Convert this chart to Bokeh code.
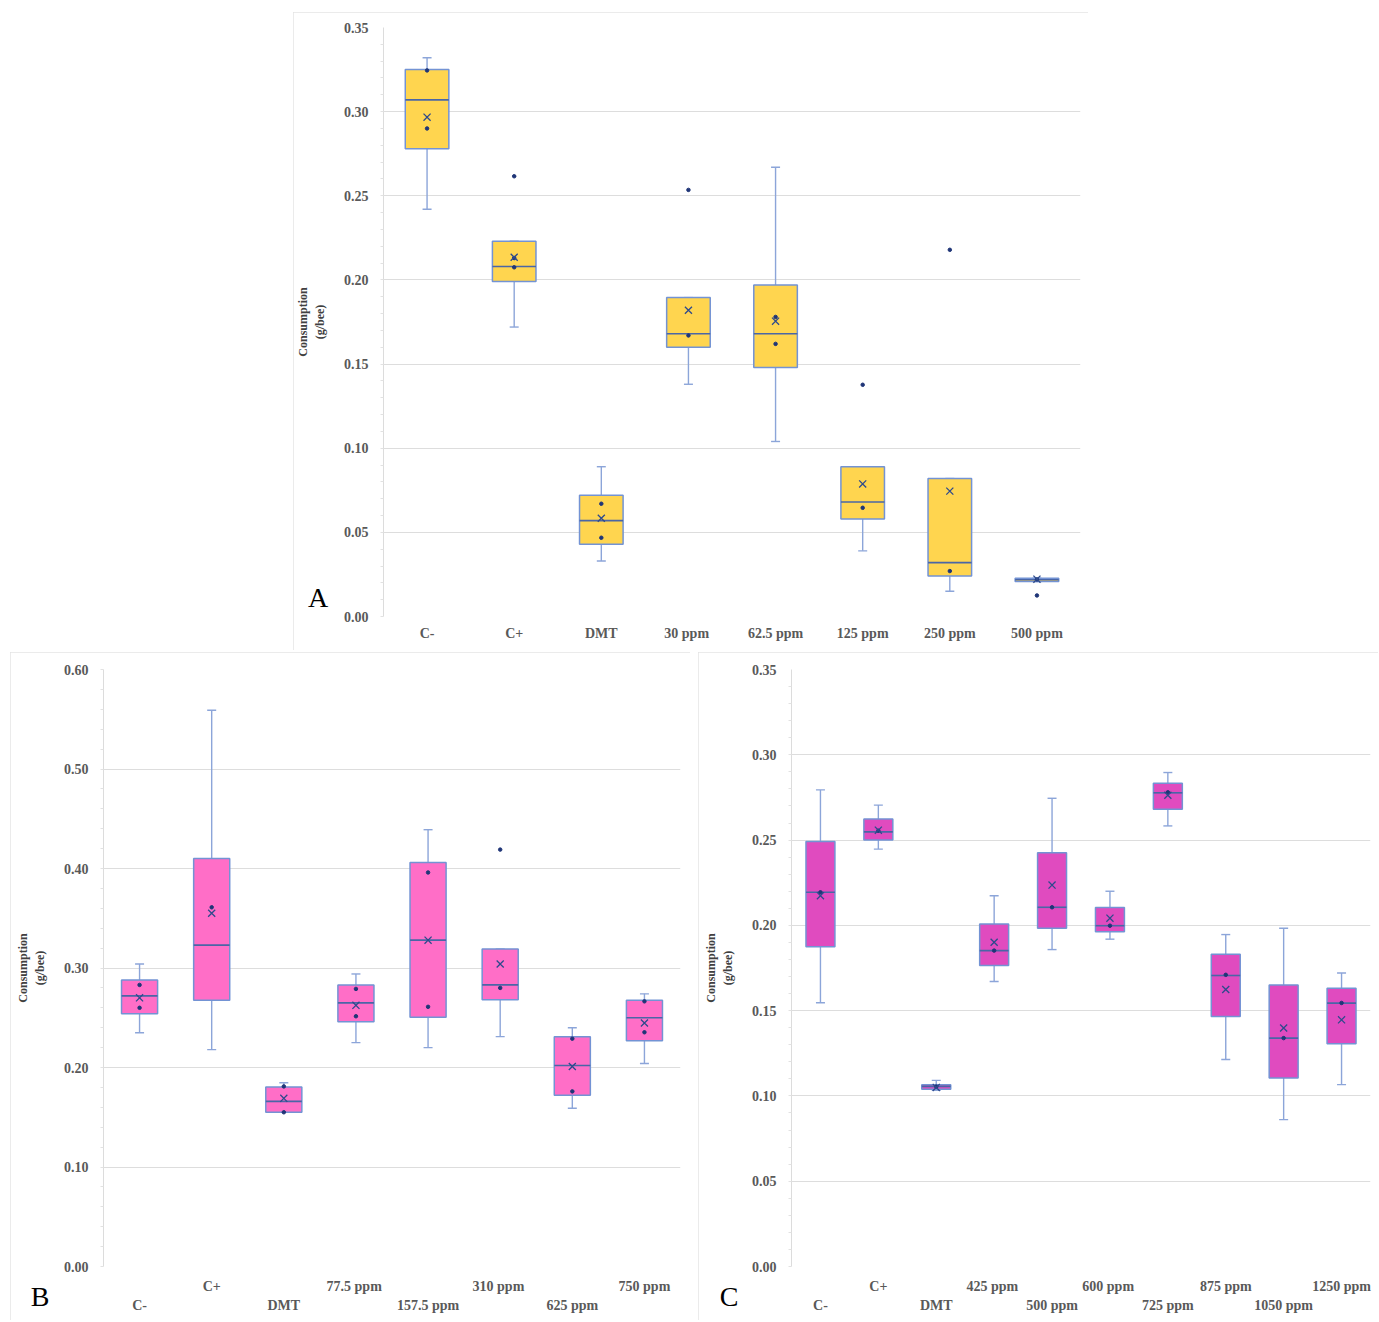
from bokeh.plotting import figure
from bokeh.models import (Range1d, CategoricalAxis, ColumnDataSource, Spacer, Div,
                          FixedTicker, NumeralTickFormatter, CustomJSTickFormatter)
from bokeh.transform import dodge
from bokeh.layouts import column, row
from bokeh.embed import file_html
from bokeh.resources import INLINE

# ---------------- Panel A ----------------
cats_a = ["C-", "C+", "DMT", "30  ppm", "62.5 ppm", "125 ppm", "250 ppm", "500 ppm"]
low_a = [0.242, 0.172, 0.033, 0.138, 0.104, 0.039, 0.015, 0.0208]
q1_a = [0.278, 0.199, 0.043, 0.160, 0.148, 0.058, 0.024, 0.0208]
med_a = [0.307, 0.208, 0.057, 0.168, 0.168, 0.068, 0.032, 0.0218]
q3_a = [0.325, 0.223, 0.072, 0.1895, 0.197, 0.089, 0.082, 0.0228]
high_a = [0.332, 0.223, 0.089, 0.1895, 0.267, 0.089, 0.082, 0.0228]
mean_a = [0.2967, 0.2135, 0.0584, 0.182, 0.1755, 0.0788, 0.0745, 0.0222]
points_a = [[0.3245, 0.290], [0.2616, 0.2075, 0.213], [0.067, 0.0468], [0.2535, 0.167],
            [0.162, 0.178], [0.1377, 0.0646], [0.2179, 0.027], [0.0125, 0.022]]
ticks_a = [0.00, 0.05, 0.10, 0.15, 0.20, 0.25, 0.30, 0.35]

# ---------------- Panel B ----------------
cats_b = ["C-", "C+", "DMT", "77.5  ppm", "157.5 ppm", "310  ppm", "625 ppm", "750 ppm"]
low_b = [0.235, 0.218, 0.155, 0.225, 0.220, 0.231, 0.159, 0.204]
q1_b = [0.254, 0.2675, 0.155, 0.246, 0.2505, 0.268, 0.172, 0.227]
med_b = [0.272, 0.323, 0.166, 0.265, 0.328, 0.283, 0.202, 0.250]
q3_b = [0.288, 0.410, 0.1805, 0.283, 0.406, 0.319, 0.231, 0.2675]
high_b = [0.304, 0.559, 0.1846, 0.294, 0.439, 0.319, 0.240, 0.274]
mean_b = [0.270, 0.355, 0.169, 0.2625, 0.328, 0.304, 0.201, 0.2447]
points_b = [[0.283, 0.260], [0.361], [0.181, 0.155], [0.279, 0.2515], [0.396, 0.261],
            [0.419, 0.280], [0.229, 0.176], [0.2665, 0.2354]]
ticks_b = [0.00, 0.10, 0.20, 0.30, 0.40, 0.50, 0.60]
upper_row_b = ["C+", "77.5  ppm", "310  ppm", "750 ppm"]

# ---------------- Panel C ----------------
cats_c = ["C-", "C+", "DMT", "425  ppm", "500 ppm", "600  ppm", "725 ppm", "875 ppm",
          "1050 ppm", "1250 ppm"]
low_c = [0.1546, 0.2447, 0.1033, 0.1671, 0.1858, 0.1919, 0.2583, 0.1214, 0.0861, 0.1066]
q1_c = [0.1875, 0.250, 0.1039, 0.1764, 0.1983, 0.1963, 0.2681, 0.1466, 0.1105, 0.1306]
med_c = [0.2194, 0.2548, 0.1056, 0.1852, 0.2106, 0.1998, 0.2777, 0.1706, 0.1339, 0.1544]
q3_c = [0.2492, 0.2623, 0.1066, 0.2008, 0.2425, 0.2104, 0.2833, 0.1831, 0.1651, 0.1632]
high_c = [0.2794, 0.2705, 0.1091, 0.2174, 0.2745, 0.220, 0.2896, 0.1946, 0.1983, 0.1721]
mean_c = [0.2174, 0.2558, 0.105, 0.1901, 0.2236, 0.2042, 0.2763, 0.1624, 0.1398, 0.1446]
points_c = [[0.2194], [0.2555], [0.1055], [0.1852], [0.2106], [0.1998], [0.278], [0.171],
            [0.1339], [0.1545]]
ticks_c = [0.00, 0.05, 0.10, 0.15, 0.20, 0.25, 0.30, 0.35]
upper_row_c = ["C+", "425  ppm", "600  ppm", "875 ppm", "1250 ppm"]

FONT = "Liberation Serif"
BOX_LINE = "#7393D4"
MEDIAN_LINE = "#4A66A6"
WHISKER = "#8CA5D9"
DOT = "#1F3577"
TICK_TEXT = "#595959"


def row_formatter(hidden):
    # shows only the factors that belong to this label row
    return CustomJSTickFormatter(args=dict(hidden=hidden),
                                 code="return hidden.includes(tick) ? '' : tick;")


def box_panel(cats, low, q1, med, q3, high, mean, points, ticks, minor_step, fill,
              width, height, borders, box_w, upper_row=None):
    left, right, top, bottom = borders
    p = figure(x_range=cats, y_range=Range1d(ticks[0], ticks[-1]),
               width=width, height=height, output_backend="svg", toolbar_location=None,
               min_border_left=left, min_border_right=right,
               min_border_top=top, min_border_bottom=bottom,
               background_fill_color="white", border_fill_color="white",
               styles={"outline": "1px solid #e4e4e4", "outline-offset": "-1px"})
    p.outline_line_color = None

    src = ColumnDataSource(dict(cat=cats, low=low, q1=q1, med=med, q3=q3, high=high, mean=mean))
    frame_w = width - left - right
    cap = 4.5 / (frame_w / len(cats))

    # whisker stems and caps
    p.segment(x0="cat", x1="cat", y0="low", y1="q1", source=src, line_color=WHISKER, line_width=1.4)
    p.segment(x0="cat", x1="cat", y0="q3", y1="high", source=src, line_color=WHISKER, line_width=1.4)
    for key in ("low", "high"):
        p.segment(x0=dodge("cat", -cap, range=p.x_range), x1=dodge("cat", cap, range=p.x_range),
                  y0=key, y1=key, source=src, line_color=WHISKER, line_width=1.4)

    # boxes and medians
    p.vbar(x="cat", bottom="q1", top="q3", width=box_w, source=src,
           fill_color=fill, line_color=BOX_LINE, line_width=1.5)
    p.segment(x0=dodge("cat", -box_w / 2, range=p.x_range), x1=dodge("cat", box_w / 2, range=p.x_range),
              y0="med", y1="med", source=src, line_color=MEDIAN_LINE, line_width=1.6)

    # individual observations and means
    px = [c for c, vals in zip(cats, points) for _ in vals]
    py = [v for vals in points for v in vals]
    p.scatter(x=px, y=py, marker="circle", size=3.5, fill_color=DOT, line_color=DOT)
    p.scatter(x="cat", y="mean", source=src, marker="x", size=10, line_color="#2E4A8C", line_width=1.3)

    # grid and axes
    p.xgrid.grid_line_color = None
    p.ygrid.grid_line_color = "#dddddd"
    p.ygrid.grid_line_width = 1
    n_minor = int(round((ticks[-1] - ticks[0]) / minor_step))
    p.yaxis.ticker = FixedTicker(ticks=ticks, minor_ticks=[ticks[0] + i * minor_step for i in range(n_minor + 1)])
    p.yaxis.formatter = NumeralTickFormatter(format="0.00")
    p.yaxis.axis_line_color = "#dcdcdc"
    p.yaxis.major_tick_line_color = None
    p.yaxis.minor_tick_line_color = "#e2e2e2"
    p.yaxis.minor_tick_in = 0
    p.yaxis.minor_tick_out = 3
    p.yaxis.major_label_text_font = FONT
    p.yaxis.major_label_text_font_style = "bold"
    p.yaxis.major_label_text_font_size = "14px"
    p.yaxis.major_label_text_color = TICK_TEXT
    p.yaxis.major_label_standoff = 9
    p.yaxis.axis_label = "Consumption\n(g/bee)"
    p.yaxis.axis_label_text_font = FONT
    p.yaxis.axis_label_text_font_style = "bold"
    p.yaxis.axis_label_text_font_size = "12px"
    p.yaxis.axis_label_text_color = "#404040"
    p.yaxis.axis_label_standoff = 14

    def style_x(ax, standoff):
        ax.axis_line_color = None
        ax.major_tick_line_color = None
        ax.minor_tick_line_color = None
        ax.major_label_text_font = FONT
        ax.major_label_text_font_style = "bold"
        ax.major_label_text_font_size = "14px"
        ax.major_label_text_color = TICK_TEXT
        ax.major_label_standoff = standoff

    xa = p.xaxis[0]
    if upper_row is None:
        style_x(xa, 3)
    else:
        style_x(xa, 6)
        xa.formatter = row_formatter([c for c in cats if c not in upper_row])
        xb = CategoricalAxis()
        style_x(xb, -5)
        xb.formatter = row_formatter(list(upper_row))
        p.add_layout(xb, "below")
    return p


def panel_letter(text, cx, cy):
    # large panel tag placed over the page at its centre point (cx, cy)
    return Div(text=text, width=40, height=32,
               styles={"position": "absolute", "left": f"{cx - 20}px", "top": f"{cy - 16}px",
                       "text-align": "center", "font-family": FONT, "font-size": "28px",
                       "line-height": "32px", "color": "black", "z-index": "10", "margin": "0"})


pA = box_panel(cats_a, low_a, q1_a, med_a, q3_a, high_a, mean_a, points_a, ticks_a, 0.01,
               "#FFD54F", 795, 638, (90, 8, 15, 34), 0.5)
pB = box_panel(cats_b, low_b, q1_b, med_b, q3_b, high_b, mean_b, points_b, ticks_b, 0.02,
               "#FF6EC7", 680, 668, (93, 10, 13, 54), 0.5, upper_row_b)
pC = box_panel(cats_c, low_c, q1_c, med_c, q3_c, high_c, mean_c, points_c, ticks_c, 0.01,
               "#E04BBF", 680, 668, (93, 8, 17, 52), 0.5, upper_row_c)

layout = column(
    Spacer(width=1379, height=12),
    row(Spacer(width=293, height=638), pA),
    Spacer(width=1379, height=2),
    row(Spacer(width=10, height=668), pB, Spacer(width=8, height=668), pC),
    panel_letter("A", 318, 598),
    panel_letter("B", 40, 1297),
    panel_letter("C", 729, 1297),
)

open("out.html", "w").write(file_html(layout, INLINE))
